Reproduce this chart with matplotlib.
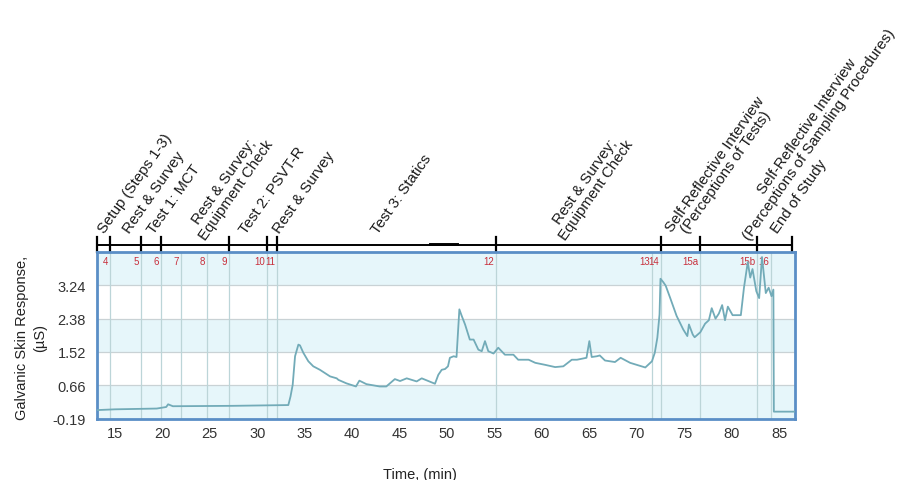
import matplotlib
matplotlib.use("Agg")
import matplotlib.pyplot as plt
import matplotlib.transforms as mtransforms

plt.rcParams['font.family'] = ['Liberation Sans', 'DejaVu Sans']

# GSR trace (minutes, microsiemens)
time_min = [13.1, 15.0, 19.4, 20.4, 20.6, 21.1, 27.4, 33.27, 33.5, 33.73,
            33.98, 34.33, 34.5, 34.85, 35.38, 35.9, 36.6, 37.67, 38.37, 38.55,
            39.4, 40.4, 40.76, 41.5, 42.9, 43.6, 44.5, 45.05, 45.75, 46.8,
            47.33, 48.73, 49.08, 49.44, 49.79, 50.1, 50.3, 50.7, 51.0, 51.3,
            51.55, 51.9, 52.4, 52.8, 53.3, 53.66, 54.0, 54.35, 54.9, 55.4,
            56.1, 57.0, 57.5, 58.6, 59.3, 60.3, 61.4, 62.26, 63.15, 63.7,
            64.7, 65.0, 65.25, 65.8, 66.1, 66.65, 67.7, 68.3, 69.3, 70.9,
            71.6, 71.9, 72.17, 72.4, 72.5, 72.8, 73.05, 73.5, 74.2, 74.9,
            75.33, 75.5, 75.9, 76.1, 76.7, 77.2, 77.6, 77.9, 78.3, 78.65,
            79.0, 79.3, 79.6, 80.1, 80.97, 81.3, 81.7, 81.96, 82.2, 82.6,
            82.9, 83.2, 83.6, 83.9, 84.2, 84.4, 84.45, 86.7]
gsr_us = [0.02, 0.04, 0.06, 0.10, 0.17, 0.12, 0.13, 0.15, 0.37, 0.67,
          1.41, 1.71, 1.69, 1.50, 1.28, 1.15, 1.06, 0.89, 0.84, 0.80,
          0.71, 0.63, 0.78, 0.69, 0.63, 0.63, 0.82, 0.77, 0.84, 0.76,
          0.84, 0.70, 0.93, 1.06, 1.08, 1.15, 1.37, 1.41, 1.39, 2.62,
          2.45, 2.23, 1.84, 1.84, 1.58, 1.54, 1.80, 1.54, 1.48, 1.63,
          1.45, 1.45, 1.32, 1.32, 1.24, 1.19, 1.13, 1.15, 1.32, 1.32,
          1.37, 1.80, 1.39, 1.41, 1.43, 1.30, 1.26, 1.37, 1.24, 1.12,
          1.28, 1.50, 1.89, 2.49, 3.41, 3.32, 3.23, 2.93, 2.45, 2.10,
          1.93, 2.23, 1.97, 1.90, 2.03, 2.25, 2.34, 2.65, 2.38, 2.51,
          2.73, 2.34, 2.69, 2.47, 2.47, 3.18, 3.84, 3.44, 3.66, 3.09,
          2.91, 3.97, 3.04, 3.18, 2.96, 3.13, -0.02, -0.02]

y_ticks = [-0.19, 0.66, 1.52, 2.38, 3.24]
x_ticks = [15, 20, 25, 30, 35, 40, 45, 50, 55, 60, 65, 70, 75, 80, 85]

# numbered protocol steps (thin vertical lines in the plot)
step_names = ['4', '5', '6', '7', '8', '9', '10', '11', '12', '13', '14',
              '15a', '15b', '16']
step_times = [14.47, 17.7, 19.8, 21.96, 24.7, 27.0, 31.0, 32.05, 55.13,
              71.6, 72.56, 76.7, 82.65, 84.15]

# study phases (timeline above the plot)
phase_edges = [13.1, 14.47, 17.7, 19.8, 27.0, 31.0, 32.05, 55.13, 72.56,
               76.7, 82.65, 86.4]
phase_names = ['Setup (Steps 1-3)', 'Rest & Survey', 'Test 1: MCT',
               'Rest & Survey;\nEquipment Check', 'Test 2: PSVT-R',
               'Rest & Survey', 'Test 3: Statics',
               'Rest & Survey;\nEquipment Check',
               'Self-Reflective Interview\n(Perceptions of Tests)',
               'Self-Reflective Interview\n(Perceptions of Sampling Procedures)',
               'End of Study']
phase_label_at = [13.3, 15.95, 18.5, 23.9, 28.2, 31.7, 42.1, 61.9, 74.3,
                  81.3, 84.2]

fig = plt.figure(figsize=(8.97, 4.81), dpi=100)
ax = fig.add_axes([0.1081, 0.1268, 0.7782, 0.3472])

y_lo, y_hi = -0.21, 4.1
ax.set_xlim(13.1, 86.68)
ax.set_ylim(y_lo, y_hi)

# alternating background bands
band = '#e6f6fa'
edges = [y_lo] + y_ticks[1:] + [y_hi]
for i in range(len(edges) - 1):
    if i % 2 == 0:
        ax.axhspan(edges[i], edges[i + 1], color=band, lw=0, zorder=0)
for y in y_ticks[1:]:
    ax.axhline(y, color='#c9d2d5', lw=0.9, zorder=1)

trans = mtransforms.blended_transform_factory(ax.transData, ax.transAxes)
for name, t in zip(step_names, step_times):
    ax.axvline(t, color='#bcd5d8', lw=0.9, zorder=1)
    ax.annotate(name, xy=(t, 0.946), xycoords=trans, xytext=(-1.2, 0),
                textcoords='offset points', ha='right', va='center',
                fontsize=7, color='#c8303c')

ax.plot(time_min, gsr_us, color='#72abb8', lw=1.3, zorder=3)

# timeline above the plot
ax.plot([phase_edges[0], phase_edges[-1]], [1.044, 1.044], transform=trans,
        color='black', lw=1.4, clip_on=False)
ax.plot([48.2, 51.0], [1.045, 1.045], transform=trans, color='black',
        lw=2.1, clip_on=False)
for t in phase_edges:
    ax.plot([t, t], [1.0, 1.09], transform=trans, color='black', lw=1.6,
            clip_on=False)
shift = mtransforms.offset_copy(trans, fig=fig, x=6, y=0, units='points')
for name, t in zip(phase_names, phase_label_at):
    y0 = 1.06 if '\n' in name else 1.10
    ax.text(t, y0, name, transform=shift, rotation=55, rotation_mode='anchor',
            ha='left', va='bottom', multialignment='center', fontsize=10.8,
            color='#1a1a1a', linespacing=1.05)

ax.set_xticks(x_ticks)
ax.set_yticks(y_ticks)
ax.set_yticklabels(['%.2f' % v for v in y_ticks])
ax.tick_params(axis='x', length=0, pad=5, labelsize=10.5, colors='#333333')
ax.tick_params(axis='y', length=0, pad=8, labelsize=10.5, colors='#333333')

for s in ax.spines.values():
    s.set_color('#5a8ec6')
    s.set_linewidth(2)

ax.set_xlabel('Time, (min)', fontsize=10.5, color='#222222')
ax.xaxis.set_label_coords(0.463, -0.285)
ax.set_ylabel('Galvanic Skin Response,\n(\u00b5S)', fontsize=10.5,
              color='#222222', linespacing=1.35)
ax.yaxis.set_label_coords(-0.072, 0.49)

fig.savefig('out.png', dpi=100)
